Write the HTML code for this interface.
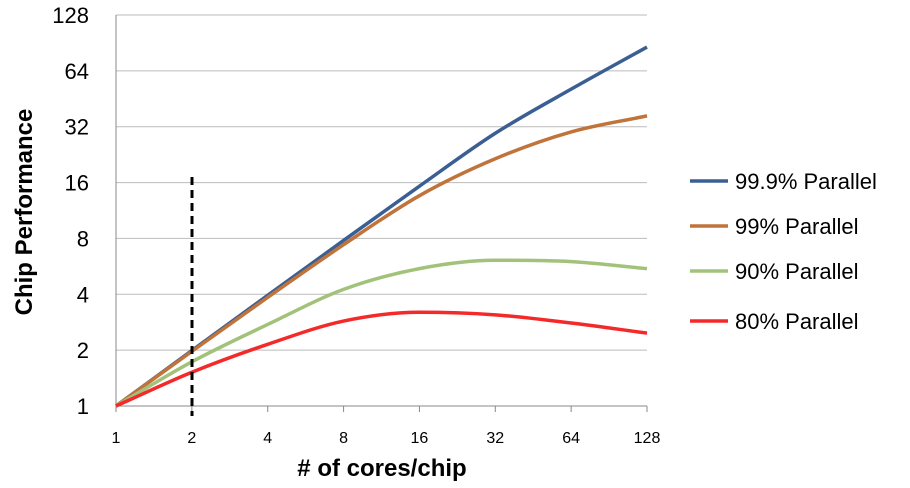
<!DOCTYPE html>
<html><head><meta charset="utf-8"><style>
body{margin:0;background:#fff;}
svg{display:block;font-family:"Liberation Sans",sans-serif;}
</style></head><body>
<svg id="chart" width="910" height="488">
<g id="grid"></g><g id="ticks"></g><g id="series"></g>
<line x1="192" y1="177" x2="192" y2="416" stroke="#000" stroke-width="3" stroke-dasharray="8,5"/>
<text x="32" y="212" font-size="24" font-weight="bold" text-anchor="middle" transform="rotate(-90 32 212)">Chip Performance</text>
<text x="382" y="476" font-size="24" font-weight="bold" text-anchor="middle"># of cores/chip</text>
<g id="legend"></g>
</svg>
<script>
const xCats=[1,2,4,8,16,32,64,128];
const yTicks=[1,2,4,8,16,32,64,128];
const seriesNames=["99.9% Parallel","99% Parallel","90% Parallel","80% Parallel"];
const seriesColors=["#3b5f93","#c0733a","#a2c27a","#f42a2a"];
const s999=[1,1.99,3.95,7.8,15.3,29.5,51,86];
const s99=[1,1.97,3.85,7.4,13.6,21.5,30,36.6];
const s90=[1,1.73,2.75,4.25,5.5,6.1,6.0,5.5];
const s80=[1,1.52,2.15,2.87,3.2,3.1,2.8,2.47];
const allSeries=[s999,s99,s90,s80];
const X0=116,X1=647,Y0=406,Y1=15;
const xs=v=>X0+(X1-X0)*Math.log2(v)/7;
const ys=v=>Y0-(Y0-Y1)*Math.log2(v)/7;
const NS="http://www.w3.org/2000/svg";
function mk(t,a,p){const e=document.createElementNS(NS,t);for(const k in a)e.setAttribute(k,a[k]);p.appendChild(e);return e;}
const grid=document.getElementById('grid'),ticks=document.getElementById('ticks');
yTicks.forEach(v=>{
 const l=mk('line',{x1:X0,x2:X1,y1:ys(v),y2:ys(v),stroke:v===1?'#888':'#bbb','stroke-width':1},grid);
 
 
 const t=mk('text',{x:89,y:ys(v)+8,'font-size':22,'text-anchor':'end'},ticks);t.textContent=v;
 
 
});
const ax=mk('line',{x1:X0,x2:X0,y1:Y1,y2:Y0,stroke:'#888'},grid);


xCats.forEach(v=>{
 const tk=mk('line',{x1:xs(v),x2:xs(v),y1:Y0,y2:Y0+6,stroke:'#888'},grid);
 
 
 const t=mk('text',{x:xs(v),y:443,'font-size':16,'text-anchor':'middle'},ticks);t.textContent=v;
 
 
});
const sg=document.getElementById('series');
allSeries.forEach((s,i)=>{
 const P=s.map((v,j)=>[xs(xCats[j]),ys(v)]);
 const n=P.length,dlt=[],m=[];
 for(let j=0;j<n-1;j++)dlt.push((P[j+1][1]-P[j][1])/(P[j+1][0]-P[j][0]));
 for(let j=0;j<n;j++){
  if(j===0)m.push(dlt[0]);else if(j===n-1)m.push(dlt[n-2]);
  else m.push(dlt[j-1]*dlt[j]<=0?0:(dlt[j-1]+dlt[j])/2);
 }
 let d='M'+P[0][0]+','+P[0][1];
 for(let j=0;j<n-1;j++){
  const h=(P[j+1][0]-P[j][0])/3;
  d+=` C${P[j][0]+h},${P[j][1]+m[j]*h} ${P[j+1][0]-h},${P[j+1][1]-m[j+1]*h} ${P[j+1][0]},${P[j+1][1]}`;
 }
 const p=mk('path',{d:d,fill:'none',stroke:seriesColors[i],'stroke-width':3.5},sg);
 
 
});
const lg=document.getElementById('legend');const ly=[181,226,271,321];
seriesNames.forEach((n,i)=>{
 const l=mk('line',{x1:690,x2:728,y1:ly[i],y2:ly[i],stroke:seriesColors[i],'stroke-width':3.5},lg);
 
 
 const t=mk('text',{x:735,y:ly[i]+8,'font-size':22},lg);t.textContent=n;
 
 
});
</script>
</body></html>
